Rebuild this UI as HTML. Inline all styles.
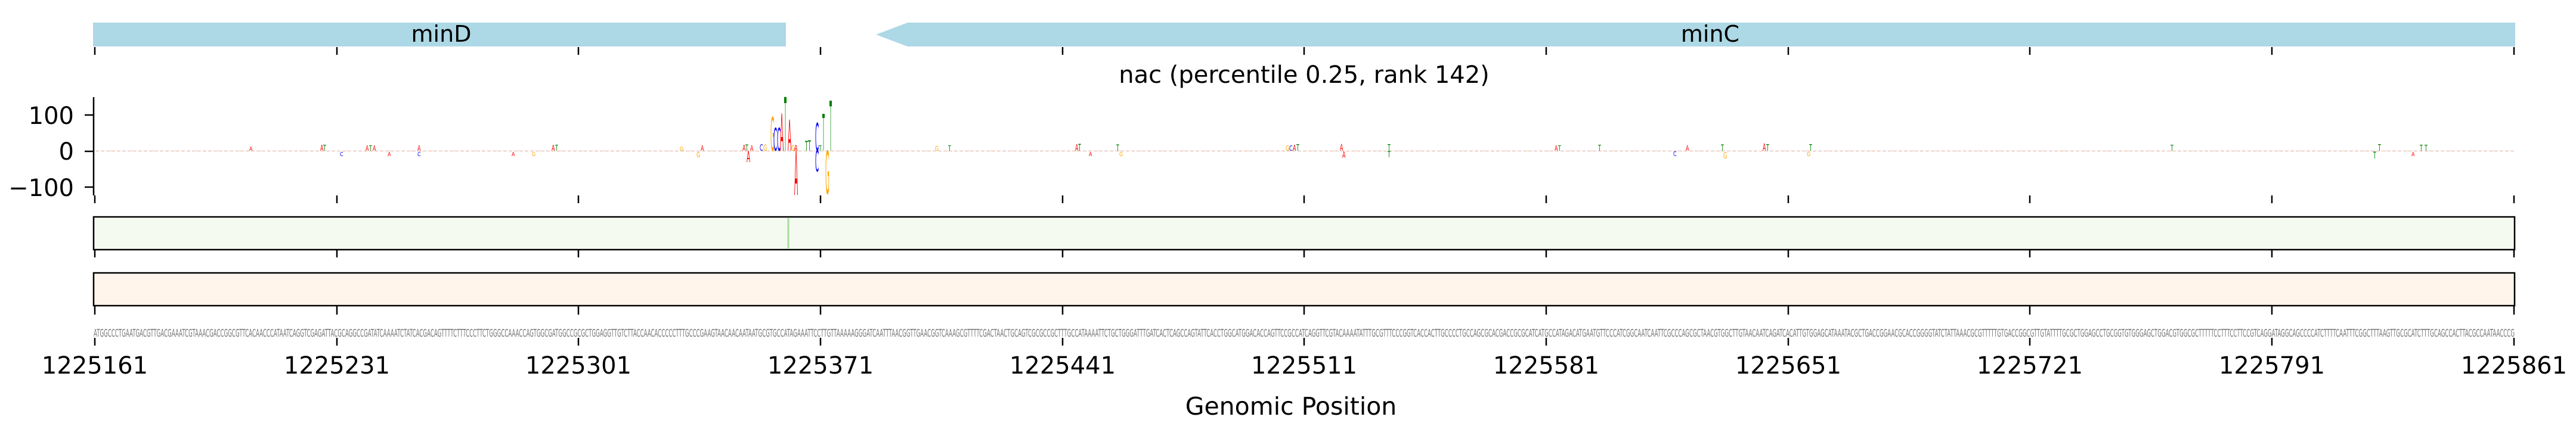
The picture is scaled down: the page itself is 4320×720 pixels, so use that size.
<!DOCTYPE html>
<html><head><meta charset="utf-8"><style>
html,body{margin:0;padding:0;background:#fff;width:4320px;height:720px;overflow:hidden}
svg{display:block}
text{font-family:"DejaVu Sans","Liberation Sans",sans-serif}
</style></head><body>
<svg width="4320" height="720" viewBox="0 0 4320 720" xmlns="http://www.w3.org/2000/svg">
<!-- genes -->
<rect x="156" y="38" width="1162" height="40" fill="#add8e6"/>
<text x="740" y="70" font-size="38" text-anchor="middle">minD</text>
<polygon points="1469,58 1522,38 4218,38 4218,78 1522,78" fill="#add8e6"/>
<text x="2868" y="70" font-size="38" text-anchor="middle">minC</text>
<g stroke="#000" stroke-width="2.5">
<line x1="159" y1="79" x2="159" y2="92"/><line x1="565" y1="79" x2="565" y2="92"/><line x1="970" y1="79" x2="970" y2="92"/><line x1="1376" y1="79" x2="1376" y2="92"/><line x1="1782" y1="79" x2="1782" y2="92"/><line x1="2187" y1="79" x2="2187" y2="92"/><line x1="2593" y1="79" x2="2593" y2="92"/><line x1="2999" y1="79" x2="2999" y2="92"/><line x1="3404" y1="79" x2="3404" y2="92"/><line x1="3810" y1="79" x2="3810" y2="92"/><line x1="4216" y1="79" x2="4216" y2="92"/>
</g>
<text x="2187" y="139" font-size="40" text-anchor="middle">nac (percentile 0.25, rank 142)</text>
<!-- logo axis -->
<g stroke="#000" stroke-width="2.5">
<line x1="157" y1="163" x2="157" y2="328"/>
<line x1="142" y1="193" x2="157" y2="193"/><line x1="142" y1="254" x2="157" y2="254"/><line x1="142" y1="314" x2="157" y2="314"/>
<line x1="159" y1="328" x2="159" y2="341"/><line x1="565" y1="328" x2="565" y2="341"/><line x1="970" y1="328" x2="970" y2="341"/><line x1="1376" y1="328" x2="1376" y2="341"/><line x1="1782" y1="328" x2="1782" y2="341"/><line x1="2187" y1="328" x2="2187" y2="341"/><line x1="2593" y1="328" x2="2593" y2="341"/><line x1="2999" y1="328" x2="2999" y2="341"/><line x1="3404" y1="328" x2="3404" y2="341"/><line x1="3810" y1="328" x2="3810" y2="341"/><line x1="4216" y1="328" x2="4216" y2="341"/>
</g>
<text x="124" y="208" font-size="40" text-anchor="end">100</text>
<text x="124" y="268" font-size="40" text-anchor="end">0</text>
<text x="124" y="329" font-size="40" text-anchor="end">−100</text>
<!-- faint baseline -->
<line x1="160" y1="253.5" x2="4216" y2="253.5" stroke="#f0c8b0" stroke-width="1.5" stroke-dasharray="6,3"/>
<line x1="160" y1="253" x2="4216" y2="253" stroke="#c8d0f0" stroke-width="1" stroke-dasharray="3,9"/>
<!-- big letters -->
<g font-size="10" style="font-family:'Liberation Sans',sans-serif">
<text transform="translate(1292,253) scale(0.9,7.78)" fill="orange">G</text>
<text transform="translate(1297,253) scale(0.9,5.28)" fill="blue">C</text>
<text transform="translate(1303,253) scale(0.9,5.28)" fill="blue">C</text>
<text transform="translate(1308,253) scale(0.9,8.6)" fill="red">A</text>
<text transform="translate(1315,253) scale(0.66,12.4)" fill="green">T</text>
<text transform="translate(1321,253) scale(0.9,7.1)" fill="red">A</text>
<text transform="translate(1327,253) scale(0.8,1.2)" fill="orange">G</text>
<text transform="translate(1332,327) scale(0.9,10.3)" fill="red">A</text>
<text transform="translate(1332,253) scale(0.8,1.3)" fill="red">A</text>
<text transform="translate(1350,253) scale(0.8,2.2)" fill="green">T</text>
<text transform="translate(1355,253) scale(0.8,2.4)" fill="green">T</text>
<text transform="translate(1367,253) scale(0.9,6.4)" fill="blue">C</text>
<text transform="translate(1367,288) scale(0.9,4.9)" fill="blue">C</text>
<text transform="translate(1373,253) scale(0.8,1.2)" fill="green">T</text>
<text transform="translate(1379,253) scale(0.66,8.5)" fill="green">T</text>
<text transform="translate(1384,325) scale(0.9,9.9)" fill="orange">G</text>
<text transform="translate(1391,253) scale(0.66,11.5)" fill="green">T</text>
<!-- small letters -->
<text transform="translate(1252,272) scale(0.9,2.6)" fill="red">A</text>
<text transform="translate(1245,253) scale(0.8,1.3)" fill="red">A</text>
<text transform="translate(1250,253) scale(0.8,1.4)" fill="green">T</text>
<text transform="translate(1258,253) scale(0.8,1.2)" fill="red">A</text>
<text transform="translate(1274,253) scale(0.8,1.5)" fill="blue">C</text>
<text transform="translate(1280,253) scale(0.8,1.4)" fill="orange">G</text>
<text transform="translate(1175,253) scale(0.8,1.2)" fill="red">A</text>
<text transform="translate(1168,264) scale(0.8,1.2)" fill="orange">G</text>
<text transform="translate(1140,253) scale(0.8,1.0)" fill="orange">G</text>
<text transform="translate(418,253) scale(0.8,1.0)" fill="red">A</text>
<text transform="translate(537,253) scale(0.8,1.3)" fill="red">A</text>
<text transform="translate(542,253) scale(0.8,1.3)" fill="green">T</text>
<text transform="translate(570,262) scale(0.8,1.0)" fill="blue">C</text>
<text transform="translate(613,253) scale(0.8,1.2)" fill="red">A</text>
<text transform="translate(619,253) scale(0.8,1.2)" fill="green">T</text>
<text transform="translate(625,253) scale(0.8,1.2)" fill="red">A</text>
<text transform="translate(650,262) scale(0.8,1.0)" fill="red">A</text>
<text transform="translate(700,253) scale(0.8,1.2)" fill="red">A</text>
<text transform="translate(700,262) scale(0.8,1.0)" fill="blue">C</text>
<text transform="translate(858,262) scale(0.8,1.0)" fill="red">A</text>
<text transform="translate(892,262) scale(0.8,1.0)" fill="orange">G</text>
<text transform="translate(925,253) scale(0.8,1.3)" fill="red">A</text>
<text transform="translate(931,253) scale(0.8,1.3)" fill="green">T</text>
<text transform="translate(1568,253) scale(0.8,1.1)" fill="orange">G</text>
<text transform="translate(1590,253) scale(0.8,1.2)" fill="green">T</text>
<text transform="translate(1803,253) scale(0.8,1.5)" fill="red">A</text>
<text transform="translate(1808,253) scale(0.8,1.6)" fill="green">T</text>
<text transform="translate(1826,262) scale(0.8,1.0)" fill="red">A</text>
<text transform="translate(1872,253) scale(0.8,1.4)" fill="green">T</text>
<text transform="translate(1877,262) scale(0.8,1.0)" fill="orange">G</text>
<text transform="translate(2156,253) scale(0.8,1.2)" fill="orange">G</text>
<text transform="translate(2162,253) scale(0.8,1.2)" fill="blue">C</text>
<text transform="translate(2168,253) scale(0.8,1.3)" fill="red">A</text>
<text transform="translate(2174,253) scale(0.8,1.5)" fill="green">T</text>
<text transform="translate(2247,253) scale(0.8,1.6)" fill="red">A</text>
<text transform="translate(2251,265) scale(0.8,1.5)" fill="red">A</text>
<text transform="translate(2327,253) scale(0.8,1.5)" fill="green">T</text>
<text transform="translate(2327,264) scale(0.8,1.4)" fill="green">T</text>
<text transform="translate(2607,253) scale(0.8,1.2)" fill="red">A</text>
<text transform="translate(2613,253) scale(0.8,1.2)" fill="green">T</text>
<text transform="translate(2680,253) scale(0.8,1.3)" fill="green">T</text>
<text transform="translate(2806,262) scale(0.8,1.1)" fill="blue">C</text>
<text transform="translate(2827,253) scale(0.8,1.2)" fill="red">A</text>
<text transform="translate(2886,253) scale(0.8,1.4)" fill="green">T</text>
<text transform="translate(2890,266) scale(0.8,1.4)" fill="orange">G</text>
<text transform="translate(2956,253) scale(0.8,1.7)" fill="red">A</text>
<text transform="translate(2962,253) scale(0.8,1.5)" fill="green">T</text>
<text transform="translate(3034,253) scale(0.8,1.5)" fill="green">T</text>
<text transform="translate(3030,262) scale(0.8,1.0)" fill="orange">G</text>
<text transform="translate(3640,253) scale(0.8,1.3)" fill="green">T</text>
<text transform="translate(3980,266) scale(0.8,1.6)" fill="green">T</text>
<text transform="translate(3988,253) scale(0.8,1.5)" fill="green">T</text>
<text transform="translate(4044,262) scale(0.8,1.0)" fill="red">A</text>
<text transform="translate(4058,253) scale(0.8,1.3)" fill="green">T</text>
<text transform="translate(4066,253) scale(0.8,1.3)" fill="green">T</text>
</g>
<!-- tracks -->
<rect x="157" y="364" width="4060" height="55" fill="#f5faf1" stroke="#000" stroke-width="2.5"/>
<line x1="1322" y1="366" x2="1322" y2="418" stroke="#a8dba0" stroke-width="3"/>
<rect x="157" y="458" width="4060" height="55" fill="#fff5ea" stroke="#000" stroke-width="2.5"/>
<g stroke="#000" stroke-width="2.5">
<line x1="159" y1="420" x2="159" y2="432"/><line x1="565" y1="420" x2="565" y2="432"/><line x1="970" y1="420" x2="970" y2="432"/><line x1="1376" y1="420" x2="1376" y2="432"/><line x1="1782" y1="420" x2="1782" y2="432"/><line x1="2187" y1="420" x2="2187" y2="432"/><line x1="2593" y1="420" x2="2593" y2="432"/><line x1="2999" y1="420" x2="2999" y2="432"/><line x1="3404" y1="420" x2="3404" y2="432"/><line x1="3810" y1="420" x2="3810" y2="432"/><line x1="4216" y1="420" x2="4216" y2="432"/>
<line x1="159" y1="514" x2="159" y2="528"/><line x1="565" y1="514" x2="565" y2="528"/><line x1="970" y1="514" x2="970" y2="528"/><line x1="1376" y1="514" x2="1376" y2="528"/><line x1="1782" y1="514" x2="1782" y2="528"/><line x1="2187" y1="514" x2="2187" y2="528"/><line x1="2593" y1="514" x2="2593" y2="528"/><line x1="2999" y1="514" x2="2999" y2="528"/><line x1="3404" y1="514" x2="3404" y2="528"/><line x1="3810" y1="514" x2="3810" y2="528"/><line x1="4216" y1="514" x2="4216" y2="528"/>
<line x1="159" y1="567" x2="159" y2="580"/><line x1="565" y1="567" x2="565" y2="580"/><line x1="970" y1="567" x2="970" y2="580"/><line x1="1376" y1="567" x2="1376" y2="580"/><line x1="1782" y1="567" x2="1782" y2="580"/><line x1="2187" y1="567" x2="2187" y2="580"/><line x1="2593" y1="567" x2="2593" y2="580"/><line x1="2999" y1="567" x2="2999" y2="580"/><line x1="3404" y1="567" x2="3404" y2="580"/><line x1="3810" y1="567" x2="3810" y2="580"/><line x1="4216" y1="567" x2="4216" y2="580"/>
</g>
<text x="157" y="565" font-size="18" fill="#777" textLength="4060" lengthAdjust="spacingAndGlyphs">ATGGCCCTGAATGACGTTGACGAAATCGTAAACGACCGGCGTTCACAACCCATAATCAGGTCGAGATTACGCAGGCCGATATCAAAATCTATCACGACAGTTTTCTTTCCCTTCTGGGCCAAACCAGTGGCGATGGCCGCGCTGGAGGTTGTCTTACCAACACCCCCTTTGCCCGAAGTAACAACAATAATGCGTGCCATAGAAATTCCTTGTTAAAAAGGGATCAATTTAACGGTTGAACGGTCAAAGCGTTTTCGACTAACTGCAGTCGCGCCGCTTTGCCATAAAATTCTGCTGGGATTTGATCACTCAGCCAGTATTCACCTGGCATGGACACCAGTTCCGCCATCAGGTTCGTACAAAATATTTGCGTTTCCCGGTCACCACTTGCCCCTGCCAGCGCACGACCGCGCATCATGCCATAGACATGAATGTTCCCATCGGCAATCAATTCGCCCAGCGCTAACGTGGCTTGTAACAATCAGATCACATTGTGGAGCATAAATACGCTGACCGGAACGCACCGGGGTATCTATTAAACGCGTTTTTGTGACCGGCGTTGTATTTTGCGCTGGAGCCTGCGGTGTGGGAGCTGGACGTGGCGCTTTTTCCTTTCCTTCCGTCAGGATAGGCAGCCCCATCTTTTCAATTTCGGCTTTAAGTTGCGCATCTTTGCAGCCACTTACGCCAATAACCCG</text>
<g font-size="40" text-anchor="middle">
<text x="159" y="627">1225161</text><text x="565" y="627">1225231</text><text x="970" y="627">1225301</text><text x="1376" y="627">1225371</text><text x="1782" y="627">1225441</text><text x="2187" y="627">1225511</text><text x="2593" y="627">1225581</text><text x="2999" y="627">1225651</text><text x="3404" y="627">1225721</text><text x="3810" y="627">1225791</text><text x="4216" y="627">1225861</text>
</g>
<text x="2165" y="696" font-size="41" text-anchor="middle">Genomic Position</text>
</svg>
</body></html>
